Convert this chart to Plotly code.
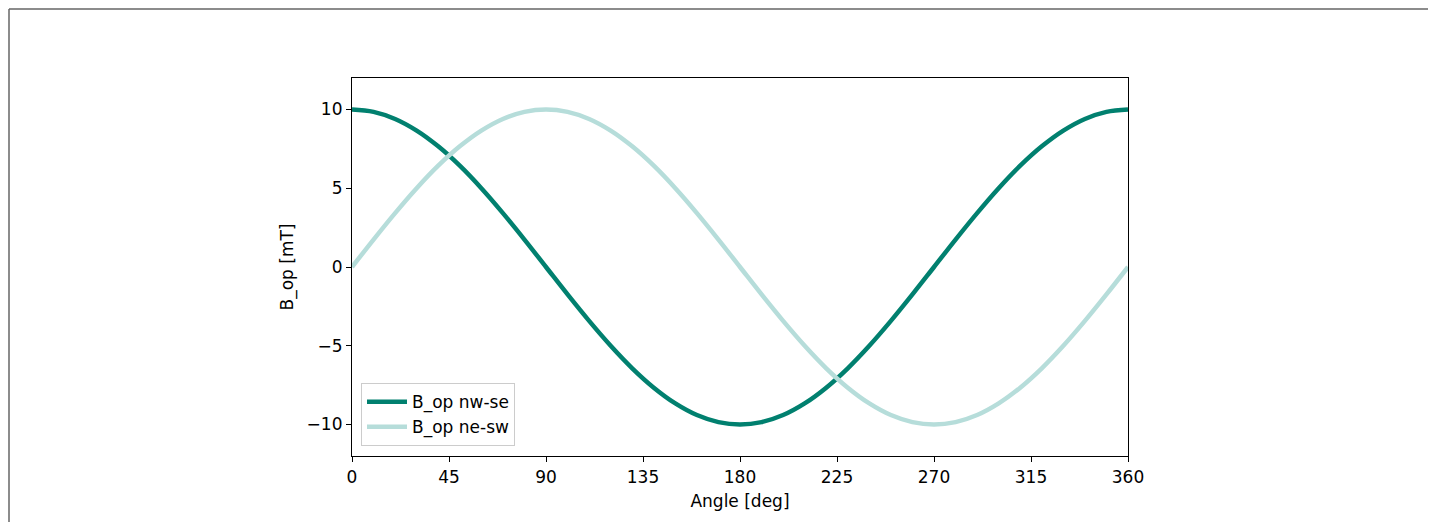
import plotly.graph_objects as go

angle_deg = [0, 10, 20, 30, 40, 50, 60, 70, 80, 90, 100, 110, 120, 130, 140, 150, 160, 170, 180,
             190, 200, 210, 220, 230, 240, 250, 260, 270, 280, 290, 300, 310, 320, 330, 340, 350, 360]
b_nw_se = [10.0, 9.85, 9.40, 8.66, 7.66, 6.43, 5.00, 3.42, 1.74, 0.0,
           -1.74, -3.42, -5.00, -6.43, -7.66, -8.66, -9.40, -9.85, -10.0,
           -9.85, -9.40, -8.66, -7.66, -6.43, -5.00, -3.42, -1.74, 0.0,
           1.74, 3.42, 5.00, 6.43, 7.66, 8.66, 9.40, 9.85, 10.0]
b_ne_sw = [0.0, 1.74, 3.42, 5.00, 6.43, 7.66, 8.66, 9.40, 9.85, 10.0,
           9.85, 9.40, 8.66, 7.66, 6.43, 5.00, 3.42, 1.74, 0.0,
           -1.74, -3.42, -5.00, -6.43, -7.66, -8.66, -9.40, -9.85, -10.0,
           -9.85, -9.40, -8.66, -7.66, -6.43, -5.00, -3.42, -1.74, 0.0]
x_ticks = [0, 45, 90, 135, 180, 225, 270, 315, 360]
y_ticks = [-10, -5, 0, 5, 10]
y_tick_text = ["\u221210", "\u22125", "0", "5", "10"]

# page body has an 8px margin, so the figure is drawn at (8, 8)
W, H = 1428, 514
L, R, T, B = 344, 1120, 70, 448

fig = go.Figure()
fig.add_trace(go.Scatter(x=angle_deg, y=b_nw_se, mode="lines", name="B_op nw-se",
                         line=dict(color="#01806f", width=4.5, shape="spline", smoothing=1.0)))
fig.add_trace(go.Scatter(x=angle_deg, y=b_ne_sw, mode="lines", name="B_op ne-sw",
                         line=dict(color="#b6ddda", width=4.5, shape="spline", smoothing=1.0)))

font = dict(family="DejaVu Sans", size=17, color="black")
axis_common = dict(showgrid=False, zeroline=False, showline=True, linecolor="black",
                   linewidth=1.2, mirror=True, ticks="outside", ticklen=5, tickwidth=1.2,
                   tickcolor="black", tickfont=font)

fig.update_layout(
    width=W, height=H,
    margin=dict(l=L, r=W - R, t=T, b=H - B, pad=0),
    paper_bgcolor="white", plot_bgcolor="white",
    font=font,
    showlegend=True,
    legend=dict(x=0.0116, y=0.026, xanchor="left", yanchor="bottom",
                bgcolor="rgba(255,255,255,0.8)", bordercolor="#cccccc", borderwidth=1,
                font=font, itemwidth=40, tracegroupgap=0),
    xaxis=dict(range=[0, 360], tickvals=x_ticks, ticktext=[str(v) for v in x_ticks],
               title=dict(text="Angle [deg]", font=font, standoff=9), **axis_common),
    yaxis=dict(range=[-12, 12], tickvals=y_ticks, ticktext=y_tick_text,
               title=dict(text="B_op [mT]", font=font, standoff=8), **axis_common),
)

# outer page frame (top and left edges)
pw, ph = R - L, B - T
fx0 = (1 - L) / pw
fy_top = (B - 1) / ph
fig.add_shape(type="line", xref="paper", yref="paper", x0=fx0, x1=(W + 10 - L) / pw,
              y0=fy_top, y1=fy_top, line=dict(color="#666666", width=1.5))
fig.add_shape(type="line", xref="paper", yref="paper", x0=fx0, x1=fx0,
              y0=fy_top, y1=(B - H - 10) / ph, line=dict(color="#666666", width=1.5))

fig.write_html("out.html")
